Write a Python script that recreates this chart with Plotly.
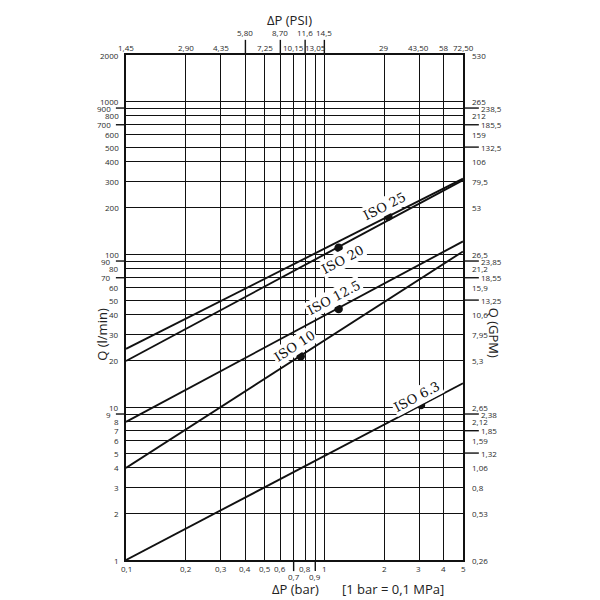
import math
import plotly.graph_objects as go

# ---------------- data ----------------
bar_ticks = [0.1, 0.2, 0.3, 0.4, 0.5, 0.6, 0.7, 0.8, 0.9, 1, 2, 3, 4, 5]
bar_labels = ["0,1", "0,2", "0,3", "0,4", "0,5", "0,6", "0,7", "0,8", "0,9", "1", "2", "3", "4", "5"]
bar_low = [0.7, 0.9]  # labels set lower with extended tick

psi_labels = ["1,45", "2,90", "4,35", "5,80", "7,25", "8,70", "10,15", "11,6", "13,05", "14,5",
              "29", "43,50", "58", "72,50"]
psi_high = [0.4, 0.6, 0.8, 1]  # labels raised with extended tick

q_ticks = [1, 2, 3, 4, 5, 6, 7, 8, 9, 10, 20, 30, 40, 50, 60, 70, 80, 90, 100,
           200, 300, 400, 500, 600, 700, 800, 900, 1000, 2000]
q_labels = ["1", "2", "3", "4", "5", "6", "7", "8", "9", "10", "20", "30", "40", "50", "60", "70",
            "80", "90", "100", "200", "300", "400", "500", "600", "700", "800", "900", "1000", "2000"]
q_left_ext = [9, 70, 90, 700, 900]

gpm_labels = ["0,26", "0,53", "0,8", "1,06", "1,32", "1,59", "1,85", "2,12", "2,38", "2,65", "5,3",
              "7,95", "10,6", "13,25", "15,9", "18,55", "21,2", "23,85", "26,5", "53", "79,5", "106",
              "132,5", "159", "185,5", "212", "238,5", "265", "530"]
q_right_ext = [5, 7, 9, 50, 70, 90, 500, 700, 900]

iso_names = ["ISO 25", "ISO 20", "ISO 12.5", "ISO 10", "ISO 6.3"]
iso_x = [0.1, 5]
iso_q_start = [24, 20, 8, 4, 1]          # Q at 0.1 bar
iso_q_end = [311, 304, 121, 104, 14.3]   # Q at 5 bar
dot_x = [2.1, 1.18, 1.18, 0.76, 3.07]
dot_q = [176, 110, 43.7, 21.5, 10.3]
label_x = [2.0, 1.24, 1.12, 0.703, 2.94]
label_q = [204, 92, 52, 24.9, 11.7]
label_angle = [-27, -28, -28, -33, -28]

L = math.log10
X_RANGE = [L(0.1), L(5)]
Y_RANGE = [L(1), L(2000)]

# ---------------- figure ----------------
fig = go.Figure()

for i, name in enumerate(iso_names):
    fig.add_trace(go.Scatter(x=iso_x, y=[iso_q_start[i], iso_q_end[i]], mode="lines",
                             line=dict(color="#111", width=1.9), showlegend=False,
                             hoverinfo="skip"))

fig.add_trace(go.Scatter(x=dot_x, y=dot_q, mode="markers",
                         marker=dict(color="#111", size=8.5), showlegend=False))

tick_font = dict(family="Open Sans, DejaVu Sans, sans-serif", size=8, color="#2a2a2a")
ann = []
shapes = []


def xpaper(v):
    return (L(v) - X_RANGE[0]) / (X_RANGE[1] - X_RANGE[0])


def ypaper(v):
    return (L(v) - Y_RANGE[0]) / (Y_RANGE[1] - Y_RANGE[0])


# bottom labels (bar)
for v, t in zip(bar_ticks, bar_labels):
    low = v in bar_low
    ann.append(dict(x=xpaper(v), y=0, xref="paper", yref="paper", text=t, showarrow=False,
                    xanchor="center", yanchor="top", yshift=-9 if low else -1, font=tick_font))
    if low:
        shapes.append(dict(type="line", xref="x", yref="paper", x0=v, x1=v, y0=0, y1=-0.022,
                           line=dict(color="#111", width=1.4)))

# top labels (PSI)
for v, t in zip(bar_ticks, psi_labels):
    high = v in psi_high
    ann.append(dict(x=xpaper(v), y=1, xref="paper", yref="paper", text=t, showarrow=False,
                    xanchor="center", yanchor="bottom", yshift=15 if high else 0, font=tick_font))
    if high:
        shapes.append(dict(type="line", xref="x", yref="paper", x0=v, x1=v, y0=1, y1=1.03,
                           line=dict(color="#111", width=1.4)))

# left labels (l/min)
for v, t in zip(q_ticks, q_labels):
    ext = v in q_left_ext
    ann.append(dict(x=0, y=ypaper(v), xref="paper", yref="paper", text=t, showarrow=False,
                    xanchor="right", yanchor="middle", xshift=-13 if ext else -5, font=tick_font))
    if ext:
        shapes.append(dict(type="line", xref="paper", yref="y", x0=-0.03, x1=0, y0=v, y1=v,
                           line=dict(color="#111", width=1.4)))

# right labels (GPM)
for v, t in zip(q_ticks, gpm_labels):
    ext = v in q_right_ext
    ann.append(dict(x=1, y=ypaper(v), xref="paper", yref="paper", text=t, showarrow=False,
                    xanchor="left", yanchor="middle", xshift=16 if ext else 7, font=tick_font))
    if ext:
        shapes.append(dict(type="line", xref="paper", yref="y", x0=1, x1=1.047, y0=v, y1=v,
                           line=dict(color="#111", width=1.4)))

# ISO labels
for i, name in enumerate(iso_names):
    ann.append(dict(x=L(label_x[i]), y=L(label_q[i]), xref="x", yref="y", text=name, showarrow=False,
                    textangle=label_angle[i], bgcolor="white", borderpad=1,
                    font=dict(family="DejaVu Serif, serif", size=13, color="#111")))

title_font = dict(family="Open Sans, DejaVu Sans, sans-serif", size=13, color="#222")
ann += [
    dict(x=0.4837, y=1.07, xref="paper", yref="paper", text="ΔP (PSI)", showarrow=False,
         xanchor="center", yanchor="middle", font=title_font),
    dict(x=0.5015, y=-0.0575, xref="paper", yref="paper", text="ΔP (bar)", showarrow=False,
         xanchor="center", yanchor="middle", font=title_font),
    dict(x=0.792, y=-0.0575, xref="paper", yref="paper", text="[1 bar = 0,1 MPa]", showarrow=False,
         xanchor="center", yanchor="middle", font=title_font),
    dict(x=-0.0712, y=0.446, xref="paper", yref="paper", text="Q (l/min)", showarrow=False,
         textangle=-90, xanchor="center", yanchor="middle", font=title_font),
    dict(x=1.092, y=0.45, xref="paper", yref="paper", text="Q (GPM)", showarrow=False,
         textangle=90, xanchor="center", yanchor="middle", font=title_font),
]

# page body has an 8px default margin, so the figure is 592 px and margins are reduced by 8
fig.update_layout(
    width=592, height=592, autosize=False,
    margin=dict(l=118, r=137, t=47, b=40),
    paper_bgcolor="white", plot_bgcolor="white",
    annotations=ann, shapes=shapes, showlegend=False,
    xaxis=dict(type="log", range=X_RANGE, tickvals=bar_ticks, showticklabels=False,
               showgrid=True, gridcolor="#111", gridwidth=1.4, ticks="",
               showline=True, linecolor="#111", linewidth=2, mirror=True, fixedrange=True),
    yaxis=dict(type="log", range=Y_RANGE, tickvals=q_ticks, showticklabels=False,
               showgrid=True, gridcolor="#111", gridwidth=1.4, ticks="",
               showline=True, linecolor="#111", linewidth=2, mirror=True, fixedrange=True),
)

fig.write_html("out.html")
